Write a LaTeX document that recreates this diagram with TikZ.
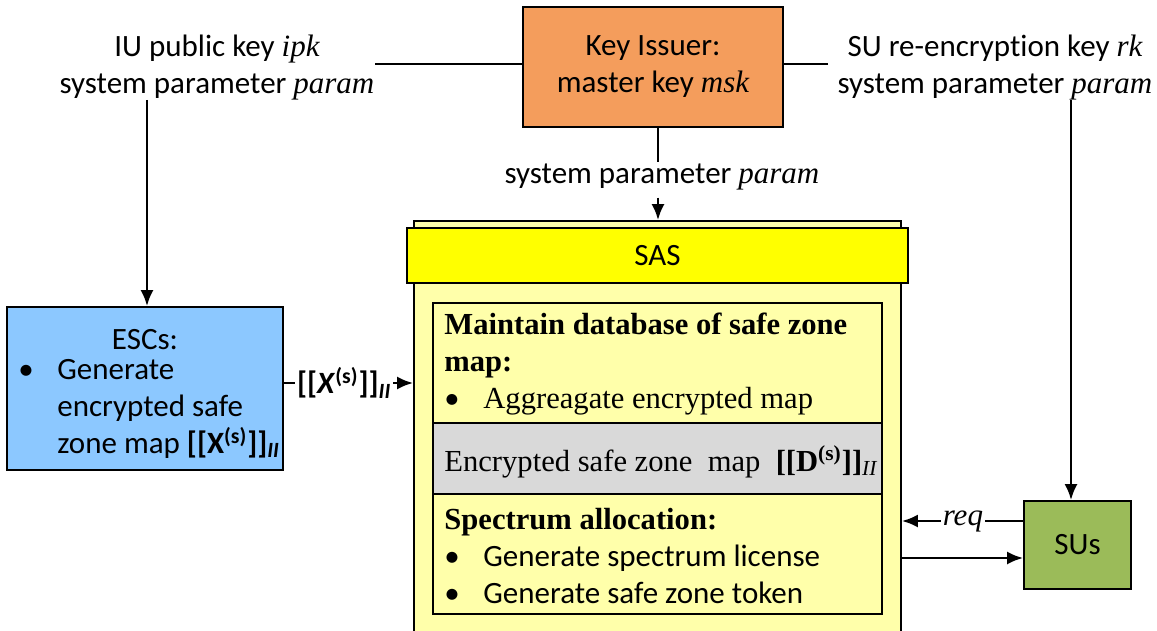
\documentclass[tikz,border=0pt]{standalone}
\usepackage{fontspec}
\usetikzlibrary{arrows.meta}
\setmainfont{Carlito}[Ligatures=NoCommon]
\newfontfamily\tnr{Liberation Serif}
\definecolor{kiorange}{RGB}{244,157,92}
\definecolor{escblue}{RGB}{140,200,255}
\definecolor{saslight}{RGB}{255,255,170}
\definecolor{sasyellow}{RGB}{255,255,0}
\definecolor{mapgray}{RGB}{217,217,217}
\definecolor{sugreen}{RGB}{155,187,89}
\newcommand{\vr}[1]{{\tnr\itshape #1}}
\newcommand{\bul}{\makebox[19.5pt][l]{\fontspec{Carlito}\textbullet}}

\begin{document}
\begin{tikzpicture}[x=0.5pt,y=-0.5pt,>={Latex[length=8pt,width=6.5pt]},line width=1.4pt,
    every node/.style={font=\fontsize{15.5}{18.5}\selectfont,inner sep=0pt},
    box/.style={draw,line width=0.8pt,minimum width=#1},
    txt/.style={align=center},
    serif/.style={font=\tnr\fontsize{15.3}{18.5}\selectfont}]
    \useasboundingbox (0,0) rectangle (1157,631);

    % boxes
    \node[box=130pt,minimum height=60pt,fill=kiorange,txt] (KI) at (653,67)
        {Key Issuer:\\master key \vr{msk}};
    \node[box=138pt,minimum height=81.5pt,fill=escblue] (ESC) at (145,388.5) {};
    \node[box=243.5pt,minimum height=212pt,fill=saslight] (SASbody) at (657.5,433) {};
    \node[box=250.5pt,minimum height=27.5pt,fill=sasyellow] (SAS) at (657.5,255.5) {SAS};
    \node[box=224.5pt,minimum height=60pt] (DB) at (657.5,363) {};
    \node[box=224.5pt,minimum height=35.5pt,fill=mapgray] (MAP) at (657.5,458.5) {};
    \node[box=224.5pt,minimum height=60pt] (ALLOC) at (657.5,554) {};
    \node[box=53.5pt,minimum height=44pt,fill=sugreen] (SU) at (1077.5,545) {SUs};

    % texts
    \node[txt] (IPK) at (217,68) {IU public key \vr{ipk}\\system parameter \vr{param}};
    \node[txt] (RK) at (995,68) {SU re-encryption key \vr{rk}\\system parameter \vr{param}};
    \node (PM) at (662,177) {system parameter \vr{param}};
    \node (ESCt) at (145,340) {ESCs:};
    \node[anchor=west,align=left] (ESCl) at (17,409)
        {\bul Generate\\\hspace{19.5pt}encrypted safe\\\hspace{19.5pt}zone map
        \textbf{[[X\textsuperscript{(s)}]]}\textsubscript{\textbf{\textit{II}}}};
    \node[anchor=west,align=left,serif] (DBt) at (443,364)
        {\textbf{Maintain database of safe zone}\\\textbf{map:}\\\bul Aggreagate encrypted map};
    \node[anchor=west,serif] (MAPt) at (443,462)
        {Encrypted safe zone\ \ map\ \ \textbf{[[D\textsuperscript{(s)}]]}\textsubscript{\textit{II}}};
    \node[anchor=west,align=left] (ALLOCt) at (443,556)
        {{\tnr\bfseries\fontsize{15.3}{18.5}\selectfont Spectrum allocation:}\\\bul Generate spectrum license\\\bul Generate safe zone token};

    % connectors
    \coordinate (L) at (375,64);
    \coordinate (R) at (828,64);
    \draw (L) -- (L -| KI.west);
    \draw (R) -- (R -| KI.east);
    \coordinate (M) at (658,127);
    \draw (M) -- (M |- PM.north);
    \draw[->] (PM.south -| M) ++(0,6) -- (M |- SASbody.north);
    \coordinate (A1) at (147,100);
    \draw[->] (A1) -- (A1 |- ESC.north);
    \coordinate (A2) at (1071,100);
    \draw[->] (A2) -- (A2 |- SU.north);
    \coordinate (X) at (283,383);
    \draw[->] (X) -- (X -| SASbody.west)
        node[pos=0.47,fill=white,inner sep=1pt] (Xl)
        {\textbf{[[\textit{X}\textsuperscript{(s)}]]}\textsubscript{\textbf{\textit{II}}}};
    \coordinate (Q) at (1024,521);
    \draw[->] (Q) -- (Q -| SASbody.east)
        node[midway,fill=white,inner sep=1pt] (REQ) {\vr{req}};
    \coordinate (S) at (901,558);
    \draw[->] (S) -- (S -| SU.west);
\end{tikzpicture}
\end{document}
